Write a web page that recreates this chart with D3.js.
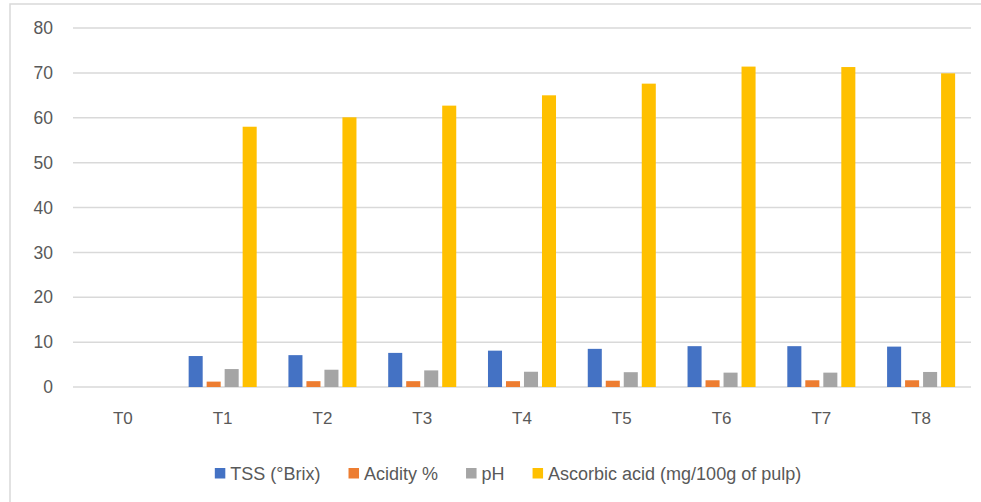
<!DOCTYPE html>
<html lang="en">
<head>
<meta charset="UTF-8">
<title>Quality parameters</title>
<script src="https://cdn.jsdelivr.net/npm/d3@7"></script>
<style>
    body { margin: 0; background: #fff; }
    svg text { font-family: "Liberation Sans", Arial, sans-serif; fill: #595959; }
</style>
</head>
<body>
<div id="chart"></div>
<script>
    // data
    const treatments = ["T0", "T1", "T2", "T3", "T4", "T5", "T6", "T7", "T8"];
    const seriesNames = ["TSS (°Brix)", "Acidity %", "pH", "Ascorbic acid (mg/100g of pulp)"];
    const tss      = [0, 6.9, 7.1, 7.6, 8.1, 8.5, 9.1, 9.1, 9.0];
    const acidity  = [0, 1.2, 1.3, 1.3, 1.3, 1.4, 1.5, 1.5, 1.5];
    const ph       = [0, 4.0, 3.85, 3.7, 3.4, 3.3, 3.2, 3.2, 3.35];
    const ascorbic = [0, 58.0, 60.1, 62.7, 65.0, 67.6, 71.4, 71.3, 69.9];
    const yTicks = [0, 10, 20, 30, 40, 50, 60, 70, 80];
    const colors = ["#4472c4", "#ed7d31", "#a5a5a5", "#ffc000"];

    const allValues = [tss, acidity, ph, ascorbic];
    const width = 981, height = 502;

    const svg = d3.select("#chart").append("svg")
        .attr("width", width)
        .attr("height", height);

    // outer chart frame (right and bottom edges fall outside the picture)
    svg.append("rect")
        .attr("x", 10).attr("y", 4)
        .attr("width", 1000).attr("height", 520)
        .attr("fill", "none")
        .attr("stroke", "#d9d9d9")
        .attr("stroke-width", 1.5);

    const x0 = d3.scaleBand().domain(treatments).range([73, 971]);
    const x1 = d3.scaleBand().domain(seriesNames)
        .range([-36, 36]).paddingInner(0.22).paddingOuter(0.11);
    const y = d3.scaleLinear().domain([0, 80]).range([387, 28]);

    // gridlines
    svg.append("g").selectAll("line")
        .data(yTicks)
        .enter()
        .append("line")
        .attr("x1", 73).attr("x2", 971)
        .attr("y1", d => y(d)).attr("y2", d => y(d))
        .style("stroke", "#d9d9d9")
        .style("stroke-width", 1.5);

    // y tick labels
    svg.append("g").selectAll("text")
        .data(yTicks)
        .enter()
        .append("text")
        .attr("x", 53)
        .attr("y", d => y(d))
        .attr("dy", "0.35em")
        .attr("text-anchor", "end")
        .style("font-size", "17.5px")
        .text(d => d);

    // x labels
    svg.append("g").selectAll("text")
        .data(treatments)
        .enter()
        .append("text")
        .attr("x", d => x0(d) + x0.bandwidth() / 2)
        .attr("y", 418)
        .attr("dy", "0.35em")
        .attr("text-anchor", "middle")
        .style("font-size", "17px")
        .text(d => d);

    // bars
    const groups = svg.append("g").selectAll("g")
        .data(treatments)
        .enter()
        .append("g")
        .attr("transform", d => `translate(${x0(d) + x0.bandwidth() / 2},0)`);

    groups.selectAll("rect")
        .data((t, i) => seriesNames.map((s, k) => ({ s: s, k: k, v: allValues[k][i] })))
        .enter()
        .append("rect")
        .attr("x", d => x1(d.s))
        .attr("width", x1.bandwidth())
        .attr("y", d => y(d.v))
        .attr("height", d => y(0) - y(d.v))
        .style("fill", d => colors[d.k]);

    // legend, laid out from measured text widths
    const legend = svg.append("g");
    const items = legend.selectAll("g")
        .data(seriesNames)
        .enter()
        .append("g");
    items.append("rect")
        .attr("width", 10.5).attr("height", 10.5)
        .attr("y", 468)
        .style("fill", (d, i) => colors[i]);
    items.append("text")
        .attr("x", 15.5)
        .attr("y", 473.5)
        .attr("dy", "0.35em")
        .style("font-size", "18px")
        .text(d => d);

    let cx = 0;
    const offsets = [];
    items.each(function() {
        offsets.push(cx);
        const w = d3.select(this).select("text").node().getComputedTextLength();
        cx += 15.5 + w + 28;
    });
    const total = cx - 28;
    const start = 508 - total / 2;
    items.attr("transform", (d, i) => `translate(${start + offsets[i]},0)`);
</script>
</body>
</html>
